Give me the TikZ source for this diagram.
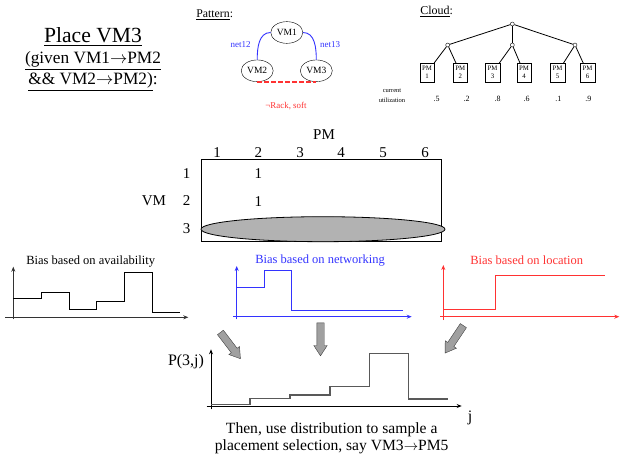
\documentclass[tikz,border=0pt]{standalone}
\usepackage{fontspec}
\setmainfont{Liberation Serif}
\usetikzlibrary{shapes.geometric,shapes.arrows,arrows.meta}
\definecolor{myblue}{RGB}{51,51,255}
\definecolor{myred}{RGB}{255,50,50}
\definecolor{ellgray}{RGB}{178,178,178}
\definecolor{arrgray}{RGB}{160,160,160}
\newcommand{\myarr}{\ensuremath{\rightarrow}}
\begin{document}
\begin{tikzpicture}[x=1pt,y=-1pt,
  lbl/.style={inner sep=0},
  vmell/.style={ellipse, draw, minimum width=32pt, minimum height=21.7pt, inner sep=0, font=\fontsize{9.5}{10}\selectfont},
  pmbox/.style={draw, minimum width=14.5pt, minimum height=18.5pt, inner sep=0, align=center, font=\fontsize{6.8}{7.6}\selectfont},
  junc/.style={circle, draw, fill=white, inner sep=0, minimum size=4pt},
  blockarrow/.style={single arrow, draw=black!75, fill=arrgray, minimum height=33pt, inner sep=3.5pt, single arrow head extend=3pt, single arrow tip angle=66},
  axisline/.style={-{Stealth[length=5pt,width=4pt]}, line width=0.8pt},
  stepline/.style={line width=0.9pt},
  biasfont/.style={font=\fontsize{12.5}{14}\selectfont},
  bigfont/.style={font=\fontsize{15}{17}\selectfont}
]
\useasboundingbox (0,0) rectangle (623,462);

% ---------- title ----------
\node[lbl, anchor=base, font=\fontsize{21.6}{24}\selectfont] (title) at (93,43) {\underline{Place VM3}};
\node[lbl, anchor=base, font=\fontsize{17.3}{20}\selectfont] (sub1) at (93,64) {\underline{(given VM1\myarr PM2}};
\node[lbl, anchor=base, font=\fontsize{17.3}{20}\selectfont] (sub2) at (93,85) {\underline{\&\& VM2\myarr PM2)}:};

% ---------- pattern ----------
\node[lbl, font=\fontsize{11.8}{13}\selectfont] (pattern) at (214.7,15) {\underline{Pattern}:};
\node[vmell] (vm1) at (286.8,32.5) {VM1};
\node[vmell] (vm2) at (257.2,70.8) {VM2};
\node[vmell] (vm3) at (316.3,70.8) {VM3};
\draw[myblue, line width=0.9pt] (vm1.west) to[out=180,in=90] (vm2.north);
\draw[myblue, line width=0.9pt] (vm1.east) to[out=0,in=90] (vm3.north);
\draw[myred, line width=1.4pt, dash pattern=on 4.5pt off 2.5pt] (vm2.south) -- (vm3.south);
\node[lbl, text=myblue, font=\fontsize{9}{10}\selectfont] (net12) at (240.7,45) {net12};
\node[lbl, text=myblue, font=\fontsize{9}{10}\selectfont] (net13) at (330,45) {net13};
\node[lbl, text=myred, font=\fontsize{8.9}{10}\selectfont] (rack) at (286,106) {¬Rack, soft};

% ---------- cloud ----------
\node[lbl, font=\fontsize{12}{13}\selectfont] (cloud) at (436.7,11.7) {\underline{Cloud}:};
\node[junc] (root) at (512.3,24) {};
\node[junc] (c1) at (447.7,45) {};
\node[junc] (c2) at (512.3,45) {};
\node[junc] (c3) at (575,45) {};
\node[pmbox] (pm1) at (427,72.5) {PM\\1};
\node[pmbox] (pm2) at (460.3,72.5) {PM\\2};
\node[pmbox] (pm3) at (492.5,72.5) {PM\\3};
\node[pmbox] (pm4) at (524,72.5) {PM\\4};
\node[pmbox] (pm5) at (557.5,72.5) {PM\\5};
\node[pmbox] (pm6) at (587.5,72.5) {PM\\6};
\draw[line width=0.8pt] (root) -- (c1);
\draw[line width=0.8pt] (root) -- (c2);
\draw[line width=0.8pt] (root) -- (c3);
\draw[line width=0.8pt] (c1) -- (pm1);
\draw[line width=0.8pt] (c1) -- (pm2);
\draw[line width=0.8pt] (c2) -- (pm3);
\draw[line width=0.8pt] (c2) -- (pm4);
\draw[line width=0.8pt] (c3) -- (pm5);
\draw[line width=0.8pt] (c3) -- (pm6);
\node[lbl, align=center, font=\fontsize{6.5}{9.5}\selectfont] (util) at (392,95.5) {current\\utilization};
\begin{scope}[every node/.style={lbl, font=\fontsize{8}{9}\selectfont}]
\node (u1) at (436.7,99) {.5};
\node (u2) at (466.7,99) {.2};
\node (u3) at (497.7,99) {.8};
\node (u4) at (526.7,99) {.6};
\node (u5) at (558.3,99) {.1};
\node (u6) at (588.3,99) {.9};
\end{scope}

% ---------- matrix ----------
\node[lbl, bigfont] (pmlab) at (324,135) {PM};
\begin{scope}[every node/.style={lbl, bigfont}]
\node (col1) at (217,152.3) {1};
\node (col2) at (258.3,152.3) {2};
\node (col3) at (300,152.3) {3};
\node (col4) at (341,152.3) {4};
\node (col5) at (383,152.3) {5};
\node (col6) at (425,152.3) {6};
\node (row1) at (186.7,174) {1};
\node (row2) at (186.7,201) {2};
\node (row3) at (186.7,228.3) {3};
\node (vmlab) at (154,201) {VM};
\end{scope}
\node[draw, line width=0.8pt, minimum width=240pt, minimum height=82.4pt, inner sep=0] (mat) at (321,200.5) {};
\node[lbl, bigfont] (one1) at (258.3,174) {1};
\node[lbl, bigfont] (one2) at (258.3,201.5) {1};
\node[ellipse, draw, line width=0.8pt, fill=ellgray, minimum width=244pt, minimum height=25pt, inner sep=0] (ell) at (323,229.2) {};

% ---------- availability chart ----------
\node[lbl, biasfont] (availlab) at (90.7,261.7) {Bias based on availability};
\coordinate (a0) at (13.3,319.3);
\coordinate (a1) at (13.3,266.7);
\coordinate (ax0) at (5,317.3);
\coordinate (ax1) at (188.3,317.3);
\draw[axisline, black!80] (a0) -- (a1);
\draw[axisline, black!80] (ax0) -- (ax1);
\draw[stepline] (13.3,298.3) -- (41.7,298.3) -- (41.7,292.7) -- (69.3,292.7) -- (69.3,309.3)
  -- (96.7,309.3) -- (96.7,301.7) -- (124.3,301.7) -- (124.3,272.3) -- (152.3,272.3)
  -- (152.3,312.7) -- (180,312.7);

% ---------- networking chart ----------
\node[lbl, biasfont, text=myblue] (netlab) at (320,261) {Bias based on networking};
\coordinate (n0) at (236.7,319.3);
\coordinate (n1) at (236.7,266);
\coordinate (nx0) at (233.3,316.7);
\coordinate (nx1) at (411.7,316.7);
\draw[axisline, myblue] (n0) -- (n1);
\draw[axisline, myblue] (nx0) -- (nx1);
\draw[stepline, myblue] (236.7,287.3) -- (264,287.3) -- (264,270.7) -- (291.7,270.7)
  -- (291.7,310.7) -- (402.7,310.7);

% ---------- location chart ----------
\node[lbl, biasfont, text=myred] (loclab) at (526.7,260.7) {Bias based on location};
\coordinate (l0) at (443.3,320);
\coordinate (l1) at (443.3,265);
\coordinate (lx0) at (440,316.7);
\coordinate (lx1) at (619.3,316.7);
\draw[axisline, myred] (l0) -- (l1);
\draw[axisline, myred] (lx0) -- (lx1);
\draw[stepline, myred] (443.3,309.3) -- (495,309.3) -- (495,275.7) -- (605,275.7);

% ---------- block arrows ----------
\node[blockarrow, rotate=-52.7] (barL) at (228.7,343.3) {};
\node[blockarrow, rotate=-90] (barM) at (320.5,336.5) {};
\node[blockarrow, rotate=-123.7] (barR) at (455.8,337) {};

% ---------- result chart ----------
\node[lbl, font=\fontsize{16}{18}\selectfont] (plab) at (186,361.7) {P(3,j)};
\node[lbl, font=\fontsize{16}{18}\selectfont] (jlab) at (470,418.3) {j};
\coordinate (p0) at (211,409.3);
\coordinate (p1) at (211,349.3);
\coordinate (px0) at (206.7,406);
\coordinate (px1) at (461.7,406);
\draw[axisline] (p0) -- (p1);
\draw[axisline] (px0) -- (px1);
\draw[stepline, black!65, line width=1.1pt] (211,404.3) -- (250,404.3) -- (250,398.3) -- (290,398.3)
  -- (290,395) -- (330,395) -- (330,386.7) -- (369.3,386.7) -- (369.3,353.3)
  -- (408.3,353.3) -- (408.3,399) -- (448.3,399);
\node[lbl, align=center, font=\fontsize{15.6}{17}\selectfont] (then) at (331.7,438.5) {Then, use distribution to sample a\\placement selection, say VM3\myarr PM5};
\end{tikzpicture}
\end{document}
